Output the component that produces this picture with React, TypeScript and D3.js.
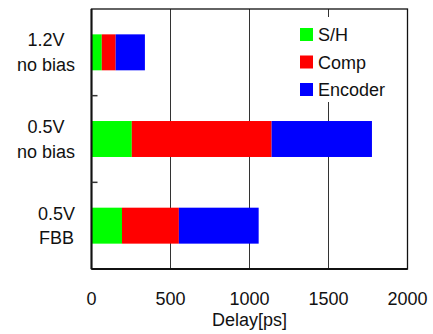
import React, { useEffect, useRef } from "react";
import * as d3 from "d3";

// config labels, each split into lines
const categories = ["1.2V no bias", "0.5V no bias", "0.5V FBB"];
const categoryLines = [["1.2V", "no bias"], ["0.5V", "no bias"], ["0.5V", "FBB"]];
const seriesNames = ["S/H", "Comp", "Encoder"];
const seriesColors = ["#00ff00", "#ff0000", "#0000ff"];
// delay in ps per stage
const shValues = [65, 255, 193];
const compValues = [88, 885, 360];
const encoderValues = [185, 635, 505];
const xTicks = [0, 500, 1000, 1500, 2000];

const App = () => {
  const ref = useRef<SVGSVGElement>(null);

  useEffect(() => {
    const svg = d3.select(ref.current);
    svg.selectAll("*").remove();

    const left = 91.5, right = 407.5, top = 9, bottom = 269;
    const font = "Liberation Sans, Arial, sans-serif";

    const x = d3.scaleLinear().domain([0, 2000]).range([left, right]);
    const y = d3.scaleBand().domain(categories).range([top, bottom]).padding(0);
    const barH = y.bandwidth() * 0.415;

    const rows = categories.map((c, i) => ({ c, vals: [shValues[i], compValues[i], encoderValues[i]] }));

    // grid lines
    svg.append("g")
      .selectAll("line")
      .data(xTicks.slice(1, -1))
      .join("line")
      .attr("x1", d => x(d)).attr("x2", d => x(d))
      .attr("y1", top).attr("y2", bottom)
      .attr("stroke", "#333").attr("stroke-width", 1);

    // stacked bars
    rows.forEach(r => {
      let acc = 0;
      r.vals.forEach((v, k) => {
        svg.append("rect")
          .attr("x", x(acc))
          .attr("y", y(r.c)! + y.bandwidth() / 2 - barH / 2)
          .attr("width", x(acc + v) - x(acc))
          .attr("height", barH)
          .attr("fill", seriesColors[k]);
        acc += v;
      });
    });

    // frame
    svg.append("rect")
      .attr("x", left).attr("y", top)
      .attr("width", right - left).attr("height", bottom - top)
      .attr("fill", "none").attr("stroke", "#111").attr("stroke-width", 1.3);
    svg.append("line").attr("x1", left).attr("x2", left).attr("y1", top).attr("y2", bottom)
      .attr("stroke", "#111").attr("stroke-width", 2);
    svg.append("line").attr("x1", left).attr("x2", right).attr("y1", bottom).attr("y2", bottom)
      .attr("stroke", "#111").attr("stroke-width", 2);

    // category separator ticks
    svg.append("g")
      .selectAll("line")
      .data(categories.slice(1))
      .join("line")
      .attr("x1", left).attr("x2", left + 6)
      .attr("y1", d => y(d)!).attr("y2", d => y(d)!)
      .attr("stroke", "#333").attr("stroke-width", 1.5);

    // x tick labels
    svg.append("g")
      .selectAll("text")
      .data(xTicks)
      .join("text")
      .attr("x", d => x(d))
      .attr("y", 305)
      .attr("text-anchor", "middle")
      .attr("font-family", font).attr("font-size", 18).attr("fill", "#111")
      .text(d => d);

    svg.append("text")
      .attr("x", x(1000)).attr("y", 326)
      .attr("text-anchor", "middle")
      .attr("font-family", font).attr("font-size", 18).attr("fill", "#111")
      .text("Delay[ps]");

    // category labels: block right-aligned, lines centred
    categories.forEach((c, i) => {
      const g = svg.append("g");
      const cy = y(c)! + y.bandwidth() / 2;
      const texts = categoryLines[i].map((line, j) =>
        g.append("text")
          .attr("y", cy - 6 + j * 24.5)
          .attr("text-anchor", "middle")
          .attr("font-family", font).attr("font-size", 18).attr("fill", "#111")
          .text(line)
      );
      const w = d3.max(texts, t => (t.node() as SVGTextElement).getComputedTextLength()) || 0;
      texts.forEach(t => t.attr("x", 75 - w / 2));
    });

    // legend
    const lg = svg.append("g");
    lg.append("rect").attr("x", 290).attr("y", 17).attr("width", 106).attr("height", 85).attr("fill", "#fff");
    seriesNames.forEach((n, k) => {
      const yy = 28 + k * 27.5;
      lg.append("rect").attr("x", 300).attr("y", yy).attr("width", 13).attr("height", 13).attr("fill", seriesColors[k]);
      lg.append("text").attr("x", 318).attr("y", yy + 13)
        .attr("font-family", font).attr("font-size", 18).attr("fill", "#111")
        .text(n);
    });
  }, []);

  return (
    <svg ref={ref} width={433} height={334} style={{ position: "absolute", left: 0, top: 0, background: "#fff" }} />
  );
};

export default App;
